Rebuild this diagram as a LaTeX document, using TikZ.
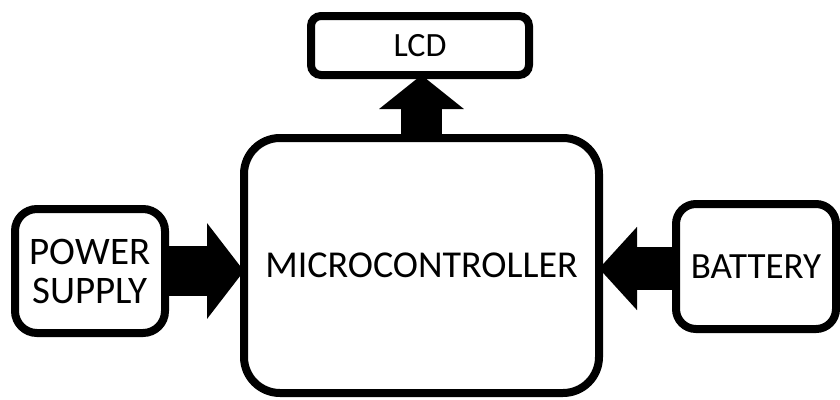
\documentclass[tikz,border=0pt]{standalone}
\usepackage{fontspec}
\setmainfont{Carlito}
\usetikzlibrary{arrows.meta,shadows}
\begin{document}
\begin{tikzpicture}[x=1pt,y=-1pt,
  block/.style={draw=black, line width=8pt, fill=white, rounded corners=#1,
    inner sep=0pt, outer sep=0pt, align=center,
    drop shadow={shadow xshift=2pt, shadow yshift=-3pt, opacity=0.18, fill=black}},
  block/.default=20pt,
  fatarrow/.style args={#1/#2/#3}{draw=black, line width=#1,
    -{Triangle[length=#3, width=#2]}}
]
\useasboundingbox (0,0) rectangle (840,399);

% blocks
\node[block=10pt, minimum width=218pt, minimum height=59pt,
  font=\fontsize{34}{36}\selectfont] (lcd) at (420,45.5) {LCD};
\node[block=36pt, minimum width=355pt, minimum height=255pt,
  font=\fontsize{38}{40}\selectfont] (mc) at (421.5,265.5) {MICROCONTROLLER};
\node[block=22pt, minimum width=150pt, minimum height=124pt,
  font=\fontsize{39}{39}\selectfont] (ps) at (90,271) {POWER\\SUPPLY};
\node[block=20pt, minimum width=160pt, minimum height=125pt,
  font=\fontsize{37}{40}\selectfont] (bat) at (756,266.5) {BATTERY};

% wide arrows between blocks
\draw[fatarrow=50pt/94pt/37pt] (ps.east) -- (ps.east -| mc.west);
\draw[fatarrow=43pt/81pt/38pt] ([yshift=-2pt]bat.west) -- ([yshift=-2pt]bat.west -| mc.east);
\draw[fatarrow=41pt/83pt/34pt] (mc.north) -- (mc.north |- lcd.south);
\end{tikzpicture}
\end{document}
